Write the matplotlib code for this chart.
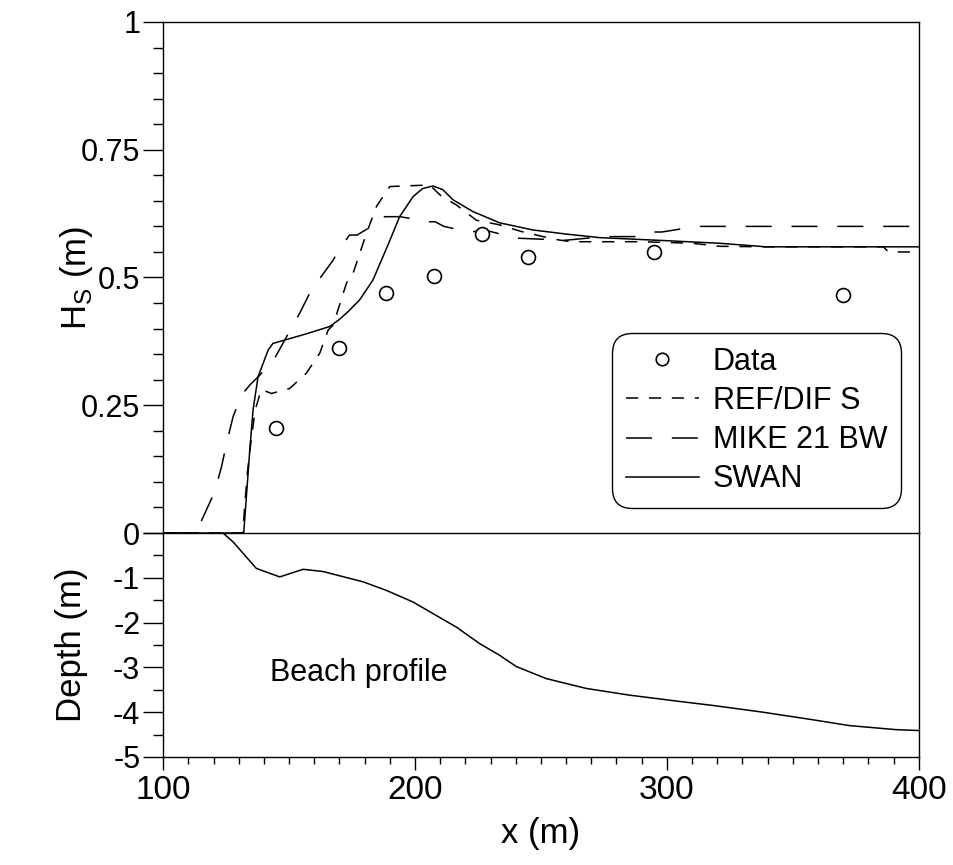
import matplotlib
matplotlib.use("Agg")
import matplotlib.pyplot as plt
from matplotlib.ticker import MultipleLocator

plt.rcParams['font.family'] = ['Liberation Sans', 'DejaVu Sans']
plt.rcParams['font.size'] = 22
plt.rcParams['axes.unicode_minus'] = False

# measured data
x_data = [145, 170, 188.5, 207.5, 226.5, 245, 295, 370]
hs_data = [0.206, 0.362, 0.469, 0.502, 0.586, 0.541, 0.55, 0.466]

# REF/DIF S
x_ref = [100, 131.6, 132.5, 133.5, 134.4, 136.5, 139, 143, 150.3, 156.9, 162.2, 165.5,
         167.5, 172.8, 175.4, 180.7, 184.7, 190, 205.8, 210.5, 216.4, 224.4, 233.6,
         242.2, 246.7, 255, 262, 270, 290, 310, 321, 340, 386, 388, 400]
hs_ref = [0, 0, 0.06, 0.12, 0.16, 0.24, 0.281, 0.273, 0.283, 0.313, 0.352, 0.397,
          0.407, 0.489, 0.508, 0.586, 0.639, 0.678, 0.681, 0.659, 0.642, 0.612, 0.603,
          0.59, 0.585, 0.575, 0.57, 0.57, 0.57, 0.567, 0.561, 0.56, 0.56, 0.55, 0.55]

# MIKE 21 BW
x_mike = [100, 113, 116.6, 120.5, 123.2, 125.2, 127.8, 131.1, 134.5, 138.4, 144.3, 149,
          154.2, 159.5, 162.2, 167.5, 170.1, 174, 177, 181, 184.7, 188, 194, 200, 203,
          208, 211.5, 216, 221, 230, 240, 250, 260, 275, 288, 293, 298, 312, 318, 400]
hs_mike = [0, 0, 0.039, 0.081, 0.13, 0.176, 0.228, 0.27, 0.29, 0.309, 0.342, 0.384,
           0.43, 0.482, 0.498, 0.534, 0.557, 0.583, 0.583, 0.595, 0.609, 0.619, 0.619,
           0.614, 0.609, 0.609, 0.600, 0.595, 0.590, 0.590, 0.577, 0.575, 0.573, 0.58,
           0.58, 0.589, 0.589, 0.6, 0.6, 0.6]

# SWAN
x_swan = [100, 132, 134.4, 135.7, 137.7, 141.7, 143.6, 150, 157, 166.1, 170, 173.4,
          178, 183.3, 189.3, 193.9, 199.2, 203, 207.1, 211, 215.1, 223, 233.6, 246.8,
          260, 273.3, 300, 320.8, 339.5, 360, 400]
hs_swan = [0, 0, 0.162, 0.241, 0.306, 0.358, 0.371, 0.38, 0.39, 0.404, 0.418, 0.433,
           0.456, 0.495, 0.564, 0.619, 0.658, 0.674, 0.679, 0.672, 0.652, 0.629, 0.607,
           0.593, 0.585, 0.578, 0.572, 0.567, 0.56, 0.56, 0.56]

# beach profile
x_bed = [100, 123.8, 127.8, 137, 146.3, 155.6, 163.5, 179.4, 188.6, 199.2, 216.4, 225.7,
         233.6, 240.2, 252.1, 268, 285.2, 305, 318.3, 338.1, 358, 372.5, 391, 400]
depth = [0, 0, -0.2, -0.79, -0.98, -0.81, -0.86, -1.09, -1.28, -1.54, -2.1, -2.47,
         -2.73, -2.98, -3.25, -3.47, -3.62, -3.76, -3.85, -4.0, -4.17, -4.3, -4.39, -4.41]

fig = plt.figure(figsize=(9.54, 8.65), dpi=100)
left, right = 0.171, 0.963
mid, top, bot = 0.3838, 0.9746, 0.1249
ax1 = fig.add_axes([left, mid, right - left, top - mid])
ax2 = fig.add_axes([left, bot, right - left, mid - bot], sharex=ax1)

lw = 1.1
ax1.plot(x_ref, hs_ref, color='black', lw=lw, dashes=(8, 7), label='REF/DIF S')
ax1.plot(x_mike, hs_mike, color='black', lw=lw, dashes=(17, 13), label='MIKE 21 BW')
ax1.plot(x_swan, hs_swan, color='black', lw=lw, label='SWAN')
ax1.plot(x_data, hs_data, 'o', mfc='white', mec='black', mew=1.2, ms=10, ls='none',
         label='Data', zorder=5)

ax1.set_xlim(100, 400)
ax1.set_ylim(0, 1)
ax1.yaxis.set_minor_locator(MultipleLocator(0.05))
ax1.set_yticks([0, 0.25, 0.5, 0.75, 1])
ax1.set_yticklabels(['0', '0.25', '0.5', '0.75', '1'])
ax1.tick_params(axis='y', which='major', direction='out', length=14.4, width=1, pad=2)
ax1.tick_params(axis='y', which='minor', direction='out', length=7.2, width=1)
ax1.tick_params(axis='x', which='both', bottom=False, labelbottom=False)
ax1.spines['bottom'].set_visible(False)
ax1.set_ylabel('H$_\\mathregular{S}$ (m)', fontsize=25)
ax1.yaxis.set_label_coords(-0.09, 0.5)

handles, labels = ax1.get_legend_handles_labels()
order = [3, 0, 1, 2]
leg = ax1.legend([handles[i] for i in order], [labels[i] for i in order],
                 loc='upper left', bbox_to_anchor=(0.594, 0.391), borderaxespad=0,
                 handlelength=2.4, handletextpad=0.45, labelspacing=0.3,
                 borderpad=0.45, frameon=True, fancybox=True, framealpha=1,
                 edgecolor='black', numpoints=1)
leg.get_frame().set_linewidth(1.0)
leg.get_frame().set_boxstyle('round', pad=0, rounding_size=0.65)
for line in leg.get_lines():
    line.set_markersize(9)

ax2.plot(x_bed, depth, color='black', lw=lw)
ax2.set_ylim(-5, 0)
ax2.set_yticks([0, -1, -2, -3, -4, -5])
ax2.set_yticklabels(['', '-1', '-2', '-3', '-4', '-5'])
ax2.yaxis.set_minor_locator(MultipleLocator(0.5))
ax2.tick_params(axis='y', which='major', direction='out', length=14.4, width=1, pad=2)
ax2.tick_params(axis='y', which='minor', direction='out', length=7.2, width=1)
ax2.xaxis.set_major_locator(MultipleLocator(100))
ax2.xaxis.set_minor_locator(MultipleLocator(10))
ax2.tick_params(axis='x', which='major', direction='out', length=9, width=1, pad=4,
                labelsize=24)
ax2.tick_params(axis='x', which='minor', direction='out', length=4.8, width=1)
ax2.set_xlabel('x (m)', labelpad=8, fontsize=25)
ax2.set_ylabel('Depth (m)', fontsize=25)
ax2.yaxis.set_label_coords(-0.10, 0.5)
ax2.text(177.5, -3.13, 'Beach profile', ha='center', va='center')

for ax in (ax1, ax2):
    for s in ax.spines.values():
        s.set_linewidth(1.0)

fig.savefig('out.png', dpi=100)
